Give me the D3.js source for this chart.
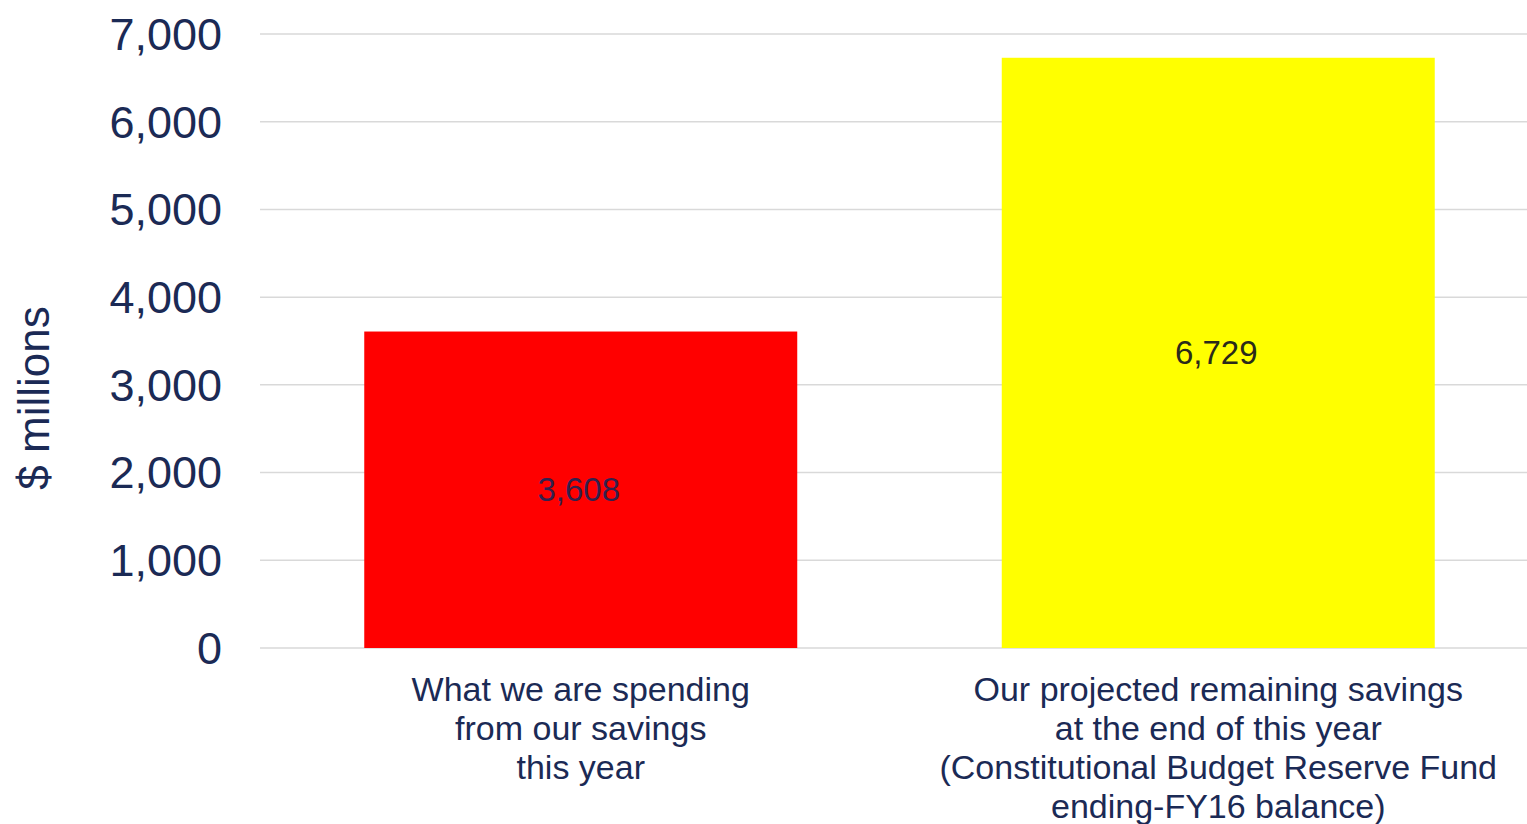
<!DOCTYPE html>
<html>
<head>
<meta charset="utf-8">
<script src="https://cdn.jsdelivr.net/npm/d3@7/dist/d3.min.js"></script>
<style>
  html, body { margin: 0; padding: 0; background: #ffffff; }
  svg { display: block; font-family: "Liberation Sans", Arial, sans-serif; }
</style>
</head>
<body>
<svg id="chart" width="1527" height="824"></svg>
<script>
// Savings chart data
const categories = [
  ["What we are spending", "from our savings", "this year"],
  ["Our projected remaining savings", "at the end of this year", "(Constitutional Budget Reserve Fund", "ending-FY16 balance)"]
];
const values = [3608, 6729];
const barColors = ["#ff0000", "#ffff00"];
const valueLabelColors = ["#33204d", "#2a2a1a"];
const yTicks = [0, 1000, 2000, 3000, 4000, 5000, 6000, 7000];
const yTitle = "$ millions";

const svg = d3.select("#chart");
const navy = "#1b2a55";

const plot = { left: 262, right: 1537, top: 34, bottom: 648 };

const x = d3.scaleBand()
  .domain(d3.range(categories.length))
  .range([plot.left, plot.right])
  .paddingInner(0.3208)
  .paddingOuter(0.1604);

const y = d3.scaleLinear()
  .domain([0, 7000])
  .range([plot.bottom, plot.top]);

// horizontal gridlines
svg.append("g")
  .selectAll("line")
  .data(yTicks)
  .join("line")
  .attr("x1", 260)
  .attr("x2", 1527)
  .attr("y1", d => y(d))
  .attr("y2", d => y(d))
  .attr("stroke", "#d9d9d9")
  .attr("stroke-width", 1.5);

// y axis labels
const yAxis = d3.axisLeft(y)
  .tickValues(yTicks)
  .tickFormat(d3.format(","))
  .tickSize(0)
  .tickPadding(0);

const yg = svg.append("g")
  .attr("transform", "translate(222,0)")
  .call(yAxis);
yg.select(".domain").remove();
yg.selectAll("text")
  .attr("fill", navy)
  .attr("font-size", 45)
  .attr("dy", "0.34em")
  .style("font-family", "'Liberation Sans', Arial, sans-serif");

// y axis title
svg.append("text")
  .attr("transform", "translate(49,398) rotate(-90)")
  .attr("text-anchor", "middle")
  .attr("fill", navy)
  .attr("font-size", 44)
  .text(yTitle);

// bars
svg.append("g")
  .selectAll("rect")
  .data(values)
  .join("rect")
  .attr("x", (d, i) => x(i))
  .attr("width", x.bandwidth())
  .attr("y", d => y(d))
  .attr("height", d => y(0) - y(d))
  .attr("fill", (d, i) => barColors[i]);

// value labels centred in each bar
svg.append("g")
  .selectAll("text")
  .data(values)
  .join("text")
  .attr("x", (d, i) => x(i) + x.bandwidth() / 2 - 2)
  .attr("y", d => (y(d) + y(0)) / 2)
  .attr("dy", "0.35em")
  .attr("text-anchor", "middle")
  .attr("font-size", 33)
  .attr("fill", (d, i) => valueLabelColors[i])
  .text(d => d3.format(",")(d));

// category labels
const cg = svg.append("g")
  .selectAll("text")
  .data(categories)
  .join("text")
  .attr("x", (d, i) => x(i) + x.bandwidth() / 2)
  .attr("y", 701)
  .attr("text-anchor", "middle")
  .attr("font-size", 34)
  .attr("fill", navy);

cg.selectAll("tspan")
  .data(d => d)
  .join("tspan")
  .attr("x", function () { return d3.select(this.parentNode).attr("x"); })
  .attr("dy", (d, i) => i === 0 ? 0 : 39)
  .text(d => d);
</script>
</body>
</html>
